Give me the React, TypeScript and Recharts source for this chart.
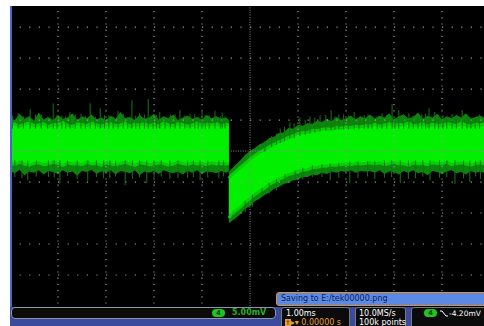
import React from "react";
import {
  ComposedChart,
  Area,
  Scatter,
  ErrorBar,
  XAxis,
  YAxis,
  ReferenceLine,
} from "recharts";

// Horizontal: 1.00 ms/div, vertical: 5.00 mV/div (ch4)
const X_GRID = [-4, -3, -2, -1, 1, 2, 3, 4];
const Y_GRID = [-20, -15, -10, -5, 5, 10, 15, 20];

const SAMPLE_STEP_MS = 0.1;
const EDGE_MS = -0.44;

// Before the step: envelope of the trace, mV
const PRE_CORE_HI = [
  4.1, 4.4, 4.0, 4.3, 4.5, 4.1, 4.2, 4.4, 3.9, 4.3,
  4.2, 4.6, 4.1, 4.0, 4.4, 4.3, 4.1, 4.5, 4.2, 4.0,
  4.3, 4.4, 4.1, 4.2, 4.5, 4.0, 4.3, 4.2, 4.4, 4.1,
  4.3, 4.0, 4.5, 4.2, 4.1, 4.4, 4.3, 4.0, 4.2, 4.5,
  4.1, 4.3, 4.2, 4.4, 4.1, 4.3, 4.2,
];
const PRE_CORE_LO = [
  -1.9, -2.2, -1.8, -2.1, -2.3, -2.0, -1.9, -2.2, -2.1, -1.8,
  -2.0, -2.3, -1.9, -2.1, -2.0, -2.2, -1.8, -2.1, -2.0, -2.3,
  -1.9, -2.1, -2.2, -2.0, -1.8, -2.1, -2.3, -1.9, -2.0, -2.2,
  -2.1, -1.9, -2.0, -2.3, -2.1, -1.8, -2.0, -2.2, -1.9, -2.1,
  -2.0, -2.2, -1.9, -2.1, -2.0, -2.1, -2.0,
];
const PRE_OUTER_HI = [
  5.4, 5.0, 6.0, 5.2, 5.6, 4.9, 6.2, 5.1, 5.5, 5.0,
  5.8, 5.2, 5.4, 6.1, 5.0, 5.6, 5.3, 5.9, 5.1, 5.4,
  5.0, 5.7, 5.2, 6.3, 5.3, 5.5, 5.0, 5.8, 5.2, 5.4,
  6.0, 5.1, 5.6, 5.3, 5.9, 5.0, 5.4, 5.7, 5.2, 5.5,
  5.1, 5.8, 5.3, 5.6, 5.2, 5.4, 5.0,
];
const PRE_OUTER_LO = [
  -3.2, -3.6, -3.0, -3.9, -3.3, -3.5, -3.1, -3.8, -3.2, -3.4,
  -3.7, -3.1, -3.5, -3.3, -4.0, -3.2, -3.4, -3.0, -3.7, -3.3,
  -3.5, -3.1, -3.8, -3.2, -3.4, -3.6, -3.1, -3.9, -3.3, -3.5,
  -3.2, -3.7, -3.1, -3.4, -3.6, -3.3, -3.8, -3.2, -3.5, -3.1,
  -3.7, -3.3, -3.4, -3.6, -3.2, -3.5, -3.3,
];

// From the step onwards (recovery back to the baseline)
const POST_CORE_HI = [
  -4.4, -4.0, -3.3, -2.6, -2.0, -1.3, -0.7, -0.2, 0.2, 0.7,
  1.1, 1.5, 1.8, 2.2, 2.5, 2.8, 3.0, 3.0, 3.3, 3.3,
  3.5, 3.6, 3.5, 3.8, 3.7, 3.9, 3.8, 4.0, 3.9, 4.1,
  4.0, 4.3, 4.0, 4.2, 4.4, 4.1, 4.3, 4.2, 4.5, 4.1,
  4.2, 4.4, 4.0, 4.3, 4.2, 4.1, 4.4, 4.3, 4.1, 4.5,
  4.2, 4.0, 4.3, 4.2, 4.4, 4.1,
];
const POST_CORE_LO = [
  -10.8, -10.3, -9.7, -9.0, -8.3, -7.7, -7.0, -6.5, -6.0, -5.4,
  -5.0, -4.6, -4.2, -3.8, -3.6, -3.3, -3.1, -3.0, -2.7, -2.6,
  -2.5, -2.4, -2.3, -2.3, -2.2, -2.1, -2.2, -2.0, -2.1, -2.0,
  -1.9, -2.1, -1.9, -2.2, -2.0, -1.8, -2.1, -2.0, -2.3, -1.9,
  -2.1, -2.0, -2.2, -1.9, -2.0, -2.1, -1.8, -2.2, -2.0, -1.9,
  -2.1, -2.3, -2.0, -1.9, -2.1, -2.0,
];
const POST_OUTER_HI = [
  -3.4, -3.0, -2.2, -1.5, -0.6, 0.0, 0.5, 1.1, 1.4, 2.1,
  2.3, 2.9, 3.0, 3.7, 3.6, 4.2, 4.1, 4.5, 4.4, 4.9,
  4.7, 5.2, 4.8, 5.5, 5.0, 5.3, 5.7, 5.1, 5.6, 5.3,
  5.9, 5.2, 5.7, 5.4, 6.1, 5.1, 5.6, 5.9, 5.3, 5.5,
  6.2, 5.2, 5.7, 5.4, 6.0, 5.1, 5.6, 5.3, 5.8, 5.4,
  6.1, 5.2, 5.5, 5.7, 5.3, 5.6,
];
const POST_OUTER_LO = [
  -11.6, -11.4, -10.8, -10.2, -9.3, -8.9, -8.1, -7.7, -7.1, -6.7,
  -6.1, -5.8, -5.3, -5.1, -4.7, -4.6, -4.2, -4.2, -3.8, -3.9,
  -3.5, -3.7, -3.3, -3.5, -3.2, -3.4, -3.1, -3.5, -3.2, -3.3,
  -3.2, -3.5, -3.1, -3.7, -3.3, -3.4, -3.8, -3.2, -3.5, -3.1,
  -3.6, -3.4, -3.9, -3.2, -3.4, -3.7, -3.3, -3.1, -3.6, -3.4,
  -3.8, -3.2, -3.5, -3.3, -3.6, -3.4,
];

// Noise spikes sticking out of the band: time (ms), bottom and top (mV)
const SPIKE_MS = [
  // upward, tall
  -4.83, -4.58, -4.35, -4.1, -3.92, -3.75, -3.52, -3.33, -3.12, -2.94,
  -2.75, -2.46, -2.3, -2.12, -1.88, -1.66, -1.46, -1.25, -1.0, -0.85,
  -0.73, -0.52, 0.31, 0.63, 0.83, 1.04, 1.25, 1.46, 1.69, 1.85,
  2.17, 2.38, 2.54, 2.75, 2.96, 3.1, 3.31, 3.58, 3.73, 3.85,
  4.02, 4.21, 4.42, 4.69, 4.9,
  // upward, short
  -4.95, -4.72, -4.47, -4.22, -4.02, -3.84, -3.64, -3.43, -3.22, -3.03,
  -2.85, -2.64, -2.55, -2.38, -2.2, -2.02, -1.95, -1.77, -1.56, -1.36,
  -1.15, -1.08, -0.93, -0.62, -0.58, 1.58, 1.77, 1.95, 2.05, 2.27,
  2.46, 2.65, 2.85, 3.02, 3.2, 3.4, 3.5, 3.66, 3.93, 4.1,
  4.3, 4.52, 4.6, 4.78, 4.98, 0.45, 0.55, 0.72, 0.92, 1.15,
  1.35,
  // downward
  -4.63, -4.2, -3.96, -3.38, -2.92, -2.6, -2.15, -1.67, -1.3, -1.04,
  -0.65, -0.1, 0.25, 0.73, 0.94, 1.67, 2.08, 2.6, 3.13, 3.45,
  3.75, 4.27, 4.58, 4.8,
  -4.9, -4.75, -4.45, -4.08, -3.8, -3.6, -3.2, -3.05, -2.8, -2.45,
  -2.3, -2.0, -1.85, -1.5, -1.18, -0.88, -0.55, 1.5, 1.85, 2.25,
  2.45, 2.8, 2.95, 3.3, 3.6, 3.95, 4.1, 4.45, 4.7, 4.95,
  0.05, 0.4, 0.55, 1.1, 1.3,
];
const SPIKE_LO = [
  3.6, 3.6, 3.6, 3.6, 3.6, 3.6, 3.6, 3.6, 3.6, 3.6,
  3.6, 3.6, 3.6, 3.6, 3.6, 3.6, 3.6, 3.6, 3.6, 3.6,
  3.6, 3.6, -0.1, 1.3, 2.0, 2.4, 2.8, 3.2, 3.4, 3.5,
  3.5, 3.6, 3.6, 3.6, 3.6, 3.6, 3.6, 3.6, 3.6, 3.6,
  3.6, 3.6, 3.6, 3.6, 3.6,
  3.6, 3.6, 3.6, 3.6, 3.6, 3.6, 3.6, 3.6, 3.6, 3.6,
  3.6, 3.6, 3.6, 3.6, 3.6, 3.6, 3.6, 3.6, 3.6, 3.6,
  3.6, 3.6, 3.6, 3.6, 3.6, 3.3, 3.4, 3.5, 3.5, 3.5,
  3.6, 3.6, 3.6, 3.6, 3.6, 3.6, 3.6, 3.6, 3.6, 3.6,
  3.6, 3.6, 3.6, 3.6, 3.6, 0.6, 1.0, 1.6, 2.1, 2.6,
  3.0,
  -4.7, -4.2, -5.2, -4.8, -4.4, -5.5, -5.2, -4.5, -4.3, -4.7,
  -4.4, -9.8, -7.3, -5.0, -4.5, -4.7, -5.2, -4.5, -5.2, -4.4,
  -4.7, -5.3, -5.0, -4.5,
  -4.2, -4.4, -4.1, -4.3, -4.0, -4.5, -4.2, -4.4, -4.1, -4.5,
  -4.2, -4.3, -4.1, -4.4, -4.2, -4.3, -4.1, -4.2, -4.3, -4.4,
  -4.1, -4.3, -4.2, -4.5, -4.1, -4.3, -4.2, -4.4, -4.1, -4.3,
  -9.0, -6.9, -6.3, -4.6, -4.2,
];
const SPIKE_HI = [
  6.1, 6.8, 5.9, 7.7, 5.7, 6.3, 6.0, 7.7, 6.9, 5.8,
  6.5, 8.2, 6.1, 8.4, 6.3, 5.9, 6.6, 6.0, 6.3, 5.8,
  6.5, 5.6, 1.6, 3.6, 4.6, 5.4, 5.6, 5.8, 6.6, 5.9,
  6.3, 5.8, 5.6, 6.1, 7.6, 6.6, 6.1, 5.9, 6.9, 6.3,
  5.8, 6.0, 6.6, 5.5, 6.2,
  5.7, 5.6, 5.9, 5.5, 5.8, 5.6, 5.9, 5.7, 5.5, 5.8,
  5.6, 6.0, 5.5, 5.7, 5.9, 5.6, 5.8, 5.5, 5.9, 5.7,
  6.0, 5.5, 5.8, 5.6, 6.2, 5.8, 5.6, 5.9, 5.7, 5.5,
  5.9, 5.6, 5.8, 5.5, 5.9, 5.7, 5.6, 6.0, 5.8, 5.6,
  5.9, 5.7, 5.5, 5.9, 5.6, 2.4, 2.8, 3.9, 4.5, 5.0,
  5.4,
  -1.5, -1.5, -1.5, -1.5, -1.5, -1.5, -1.5, -1.5, -1.5, -1.5,
  -1.5, -8.0, -6.0, -3.7, -3.1, -2.0, -1.7, -1.6, -1.5, -1.5,
  -1.5, -1.5, -1.5, -1.5,
  -1.5, -1.5, -1.5, -1.5, -1.5, -1.5, -1.5, -1.5, -1.5, -1.5,
  -1.5, -1.5, -1.5, -1.5, -1.5, -1.5, -1.5, -2.1, -1.9, -1.7,
  -1.6, -1.5, -1.5, -1.5, -1.5, -1.5, -1.5, -1.5, -1.5, -1.5,
  -7.0, -5.1, -4.5, -2.7, -2.3,
];

const sampleTime = (i: number) => Math.round((-5 + i * SAMPLE_STEP_MS) * 100) / 100;

const preRows = PRE_CORE_HI.map((hi, i) => ({
  t: i < PRE_CORE_HI.length - 1 ? sampleTime(i) : EDGE_MS,
  core: [PRE_CORE_LO[i], hi],
  outer: [PRE_OUTER_LO[i], PRE_OUTER_HI[i]],
}));

const postRows = POST_CORE_HI.map((hi, i) => ({
  t: i === 0 ? EDGE_MS : sampleTime(45 + i),
  core: [POST_CORE_LO[i], hi],
  outer: [POST_OUTER_LO[i], POST_OUTER_HI[i]],
}));

const spikeRows = SPIKE_MS.map((t, i) => ({
  t,
  lo: SPIKE_LO[i],
  err: [0, SPIKE_HI[i] - SPIKE_LO[i]],
}));

const GRID = "#9a9a9a";
const CORE = "#00f000";
const CORE_EDGE = "#08cc08";
const FRINGE = "#0c930c";
const SPIKE = "#127812";

const ui: React.CSSProperties = {
  position: "absolute",
  fontFamily: "'DejaVu Sans', sans-serif",
  fontSize: 8,
  lineHeight: "9px",
  whiteSpace: "nowrap",
};

function Box({ left, width, children }: { left: number; width: number; children: React.ReactNode }) {
  return (
    <div
      style={{
        position: "absolute",
        left,
        top: 307,
        width,
        height: 24,
        background: "#0b0b0b",
        border: "1px solid #7a7a7a",
        borderRadius: 3,
        boxSizing: "border-box",
      }}
    >
      {children}
    </div>
  );
}

function ChannelBadge({ left, top }: { left: number; top: number }) {
  return (
    <div
      style={{
        ...ui,
        left,
        top,
        width: 13,
        height: 8,
        borderRadius: 4,
        background: "#22c422",
        color: "#053805",
        fontSize: 6.5,
        lineHeight: "8px",
        textAlign: "center",
        fontWeight: 700,
      }}
    >
      4
    </div>
  );
}

const bandProps = {
  type: "linear" as const,
  dot: false,
  activeDot: false,
  isAnimationActive: false,
};

export default function App() {
  return (
    <div
      style={{
        position: "absolute",
        left: 0,
        top: 0,
        width: 484,
        height: 326,
        overflow: "hidden",
        background: "#ffffff",
      }}
    >
      <div style={{ position: "absolute", left: 10, top: 6, width: 480, height: 320, background: "#000" }} />
      <div style={{ position: "absolute", left: 0, top: 0 }}>
        <ComposedChart width={496} height={326} margin={{ top: 6, right: 6, bottom: 20, left: 10 }}>
          <XAxis type="number" dataKey="t" domain={[-5, 5]} allowDataOverflow hide />
          <YAxis type="number" domain={[-25, 23.4]} allowDataOverflow hide />
          {Y_GRID.map((v) => (
            <ReferenceLine key={`h${v}`} y={v} stroke={GRID} strokeWidth={1.2} strokeDasharray="1.2 8.4" />
          ))}
          {X_GRID.map((v) => (
            <ReferenceLine key={`v${v}`} x={v} stroke={GRID} strokeWidth={1.2} strokeDasharray="1.2 5" strokeDashoffset={3.8} />
          ))}
          <ReferenceLine y={0} stroke="#8a8a8a" strokeDasharray="1 1.4" />
          <ReferenceLine x={0} stroke="#8a8a8a" strokeDasharray="1 1.4" />
          <Scatter data={spikeRows} dataKey="lo" shape={() => <g />} isAnimationActive={false}>
            <ErrorBar dataKey="err" direction="y" width={0} stroke={SPIKE} strokeWidth={1} />
          </Scatter>
          <Area {...bandProps} data={preRows} dataKey="outer" stroke="none" fill={FRINGE} fillOpacity={0.9} />
          <Area {...bandProps} data={postRows} dataKey="outer" stroke="none" fill={FRINGE} fillOpacity={0.9} />
          <Area {...bandProps} data={preRows} dataKey="core" stroke={CORE_EDGE} strokeWidth={3} fill={CORE} fillOpacity={1} />
          <Area {...bandProps} data={postRows} dataKey="core" stroke={CORE_EDGE} strokeWidth={3} fill={CORE} fillOpacity={1} />
        </ComposedChart>
      </div>

      {/* screen edge */}
      <div style={{ position: "absolute", left: 10, top: 6, width: 1.5, height: 301, background: "#4a68c8" }} />

      {/* status strip */}
      <div style={{ position: "absolute", left: 10, top: 307, width: 474, height: 19, background: "#3a4a9c" }} />
      <div
        style={{
          position: "absolute",
          left: 11,
          top: 307,
          width: 265,
          height: 12,
          background: "#0c0b06",
          border: "1px solid #8a96b4",
          borderRadius: 4,
          boxSizing: "border-box",
        }}
      />
      <ChannelBadge left={212} top={309} />
      <div style={{ ...ui, left: 232, top: 308, color: "#27b027", fontWeight: 700 }}>5.00mV</div>

      <Box left={281} width={69}>
        <div style={{ ...ui, left: 4, top: 1, color: "#ffffff" }}>1.00ms</div>
        <div style={{ ...ui, left: 3, top: 10, color: "#e8a030" }}>
          <span style={{ background: "#e8a030", color: "#2a1800", fontSize: 6, padding: "0 1px" }}>T</span>
          ▸▾ 0.00000 s
        </div>
      </Box>
      <Box left={355} width={51}>
        <div style={{ ...ui, left: 3, top: 1, color: "#ffffff" }}>10.0MS/s</div>
        <div style={{ ...ui, left: 3, top: 10, color: "#ffffff" }}>100k points</div>
      </Box>
      <Box left={411} width={80}>
        <svg style={{ position: "absolute", left: 28, top: 2 }} width={8} height={7}>
          <polyline points="0,1 2,1 6,6 8,6" fill="none" stroke="#ffffff" strokeWidth={1} />
        </svg>
        <div style={{ ...ui, left: 37, top: 1, color: "#ffffff", fontSize: 7.5 }}>-4.20mV</div>
      </Box>
      <ChannelBadge left={424} top={309} />

      {/* save notification */}
      <div
        style={{
          ...ui,
          left: 276,
          top: 292,
          width: 220,
          height: 14,
          background: "#5a8ae4",
          border: "1.5px solid #e0902a",
          borderRadius: 3,
          boxSizing: "border-box",
          color: "#102060",
          paddingLeft: 4,
          lineHeight: "11px",
        }}
      >
        Saving to E:/tek00000.png
      </div>
    </div>
  );
}
